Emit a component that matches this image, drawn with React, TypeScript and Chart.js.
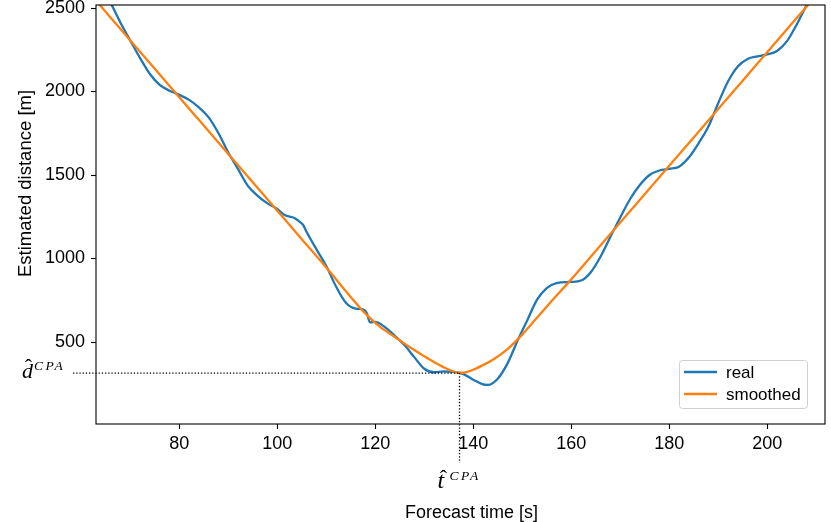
import React, { useEffect, useRef } from 'react';
import { Chart, registerables } from 'chart.js';

Chart.register(...registerables);

// ---- data ----
const REAL_T = [62, 64, 66, 68, 70, 72, 74, 76, 78, 80, 82, 84, 86, 88, 90, 92, 94, 96, 98, 100, 101.5, 103.5, 104.6, 105.3, 106, 108, 110, 112, 114, 116, 117.5, 118.3, 118.9, 120, 122, 124, 126, 128, 130, 132, 134, 136, 138, 140, 142, 143, 145, 147, 149, 151, 153, 155, 157, 160, 162, 164, 166, 168, 170, 172, 174, 176, 178, 180, 182, 184, 186, 188, 190, 192, 194, 196, 198, 200, 202, 204, 206, 208, 210];
const REAL_D = [2750, 2640, 2530, 2412, 2305, 2200, 2105, 2040, 2005, 1980, 1950, 1905, 1845, 1750, 1635, 1535, 1435, 1375, 1330, 1297, 1260, 1243, 1219, 1200, 1159, 1055, 955, 832, 735, 700, 695, 672, 618, 620, 588, 537, 480, 408, 340, 319, 324, 321, 308, 274, 246, 243, 280, 372, 505, 628, 752, 823, 853, 860, 868, 918, 1012, 1130, 1245, 1355, 1440, 1500, 1527, 1537, 1550, 1605, 1690, 1790, 1930, 2060, 2150, 2195, 2210, 2222, 2243, 2300, 2400, 2515, 2630];

const SMOOTH_T = [62, 66, 70, 75, 80, 85, 90, 95, 100, 105, 110, 115, 118, 121, 124, 127, 130, 133, 135, 137, 138, 140, 142, 144, 147, 150, 153, 156, 160, 165, 170, 175, 180, 185, 190, 195, 200, 205, 210];
const SMOOTH_D = [2580, 2442, 2306, 2136, 1966, 1796, 1626, 1456, 1286, 1116, 946, 770, 670, 590, 530, 470, 415, 364, 335, 316, 316, 334, 362, 394, 458, 544, 645, 745, 875, 1045, 1215, 1385, 1555, 1725, 1895, 2065, 2235, 2405, 2575];

const SERIES_LABELS = ['real', 'smoothed'];
const SERIES_COLORS = ['#1f77b4', '#ff7f0e'];
const X_TICKS = [80, 100, 120, 140, 160, 180, 200];
const Y_TICKS = [500, 1000, 1500, 2000, 2500];
const X_MIN = 63;
const X_MAX = 211.8;
const Y_MIN = 9;
const Y_MAX = 2518;
const T_CPA = 137.2;
const D_CPA = 314;
const X_TITLE = 'Forecast time [s]';
const Y_TITLE = 'Estimated distance [m]';

const FONT = '"Liberation Sans", Arial, sans-serif';
const MATH_FONT = '"Liberation Serif", "DejaVu Serif", serif';

const overlayPlugin = {
  id: 'overlay',
  afterDraw(chart: any) {
    const { ctx, chartArea: a, scales } = chart;
    const x = scales.x;
    const y = scales.y;
    ctx.save();

    // spines
    ctx.strokeStyle = '#000';
    ctx.lineWidth = 1.1;
    ctx.strokeRect(a.left, a.top, a.right - a.left, a.bottom - a.top);

    // dotted CPA guides
    const px = x.getPixelForValue(T_CPA);
    const py = y.getPixelForValue(D_CPA);
    ctx.setLineDash([1.3, 1.9]);
    ctx.lineWidth = 1.3;
    ctx.beginPath();
    ctx.moveTo(a.left - 23, py);
    ctx.lineTo(px, py);
    ctx.moveTo(px, py);
    ctx.lineTo(px, a.bottom + 39);
    ctx.stroke();
    ctx.setLineDash([]);

    // math labels  d^CPA and t^CPA (with hats)
    ctx.fillStyle = '#000';
    ctx.textBaseline = 'alphabetic';
    ctx.textAlign = 'left';
    ctx.font = `italic 22px ${MATH_FONT}`;
    ctx.fillText('d', 22, py + 5);
    ctx.font = `italic 24px ${MATH_FONT}`;
    ctx.fillText('t', px - 22, a.bottom + 64);
    ctx.textAlign = 'center';
    ctx.font = `22px ${MATH_FONT}`;
    ctx.fillText('\u02C6', 28.5, py + 1);
    ctx.fillText('\u02C6', px - 16, a.bottom + 61);
    ctx.textAlign = 'left';
    ctx.font = `italic 13.5px ${MATH_FONT}`;
    (ctx as any).letterSpacing = '2.5px';
    ctx.fillText('CPA', 34, py - 3);
    ctx.fillText('CPA', px - 10, a.bottom + 55.5);
    (ctx as any).letterSpacing = '0px';

    // axis titles
    ctx.font = `18px ${FONT}`;
    ctx.textAlign = 'center';
    ctx.textBaseline = 'alphabetic';
    ctx.fillText(X_TITLE, (a.left + a.right) / 2 + 11, 518);
    ctx.save();
    ctx.translate(31, (a.top + a.bottom) / 2 - 31);
    ctx.rotate(-Math.PI / 2);
    ctx.font = `18.5px ${FONT}`;
    ctx.fillText(Y_TITLE, 0, 0);
    ctx.restore();

    // legend
    const lw = 128;
    const lh = 48;
    const lx = a.right - 18 - lw;
    const ly = a.bottom - 16 - lh;
    ctx.beginPath();
    ctx.roundRect(lx + 0.5, ly + 0.5, lw, lh, 3);
    ctx.fillStyle = 'rgba(255,255,255,0.8)';
    ctx.fill();
    ctx.strokeStyle = '#d0d0d0';
    ctx.lineWidth = 1;
    ctx.stroke();
    chart.data.datasets.forEach((ds: any, i: number) => {
      const yy = ly + 12 + i * 22;
      ctx.strokeStyle = ds.borderColor;
      ctx.lineWidth = 2.3;
      ctx.beginPath();
      ctx.moveTo(lx + 5, yy);
      ctx.lineTo(lx + 38, yy);
      ctx.stroke();
      ctx.fillStyle = '#000';
      ctx.textAlign = 'left';
      ctx.textBaseline = 'middle';
      ctx.font = `17px ${FONT}`;
      ctx.fillText(ds.label, lx + 47, yy + 1);
    });

    ctx.restore();
  },
};

export default function App() {
  const ref = useRef<HTMLCanvasElement | null>(null);

  useEffect(() => {
    if (!ref.current) return;
    const chart = new Chart(ref.current, {
      type: 'line',
      data: {
        datasets: [
          {
            label: SERIES_LABELS[0],
            data: REAL_T.map((t, i) => ({ x: t, y: REAL_D[i] })),
            borderColor: SERIES_COLORS[0],
            borderWidth: 2.3,
            pointRadius: 0,
            cubicInterpolationMode: 'monotone',
            fill: false,
            order: 1,
          },
          {
            label: SERIES_LABELS[1],
            data: SMOOTH_T.map((t, i) => ({ x: t, y: SMOOTH_D[i] })),
            borderColor: SERIES_COLORS[1],
            borderWidth: 2.3,
            pointRadius: 0,
            cubicInterpolationMode: 'monotone',
            fill: false,
            order: 0,
          },
        ],
      },
      options: {
        responsive: false,
        animation: false,
        devicePixelRatio: 1,
        layout: { padding: { top: 5, right: 6, left: 0, bottom: 0 } },
        plugins: {
          legend: { display: false },
          tooltip: { enabled: false },
        },
        scales: {
          x: {
            type: 'linear',
            min: X_MIN,
            max: X_MAX,
            afterBuildTicks: (s: any) => {
              s.ticks = X_TICKS.map((v) => ({ value: v }));
            },
            afterFit: (s: any) => {
              s.height = 98;
              s.paddingLeft = 0;
              s.paddingRight = 0;
            },
            border: { display: false },
            grid: { drawOnChartArea: false, drawTicks: true, tickLength: 5, color: '#000', tickWidth: 1.1 },
            ticks: {
              color: '#000',
              font: { family: FONT, size: 18 },
              padding: 4,
              maxRotation: 0,
              callback: (v: any) => String(v),
            },
          },
          y: {
            type: 'linear',
            min: Y_MIN,
            max: Y_MAX,
            afterBuildTicks: (s: any) => {
              s.ticks = Y_TICKS.map((v) => ({ value: v }));
            },
            afterFit: (s: any) => {
              s.width = 96;
              s.paddingTop = 0;
              s.paddingBottom = 0;
            },
            border: { display: false },
            grid: { drawOnChartArea: false, drawTicks: true, tickLength: 5, color: '#000', tickWidth: 1.1 },
            ticks: {
              color: '#000',
              font: { family: FONT, size: 18 },
              padding: 6,
              callback: (v: any) => String(v),
            },
          },
        },
      },
      plugins: [overlayPlugin],
    } as any);
    return () => chart.destroy();
  }, []);

  return (
    <div style={{ position: 'absolute', left: 0, top: 0, width: 831, height: 522, background: '#fff' }}>
      <canvas ref={ref} width={831} height={522} />
    </div>
  );
}
